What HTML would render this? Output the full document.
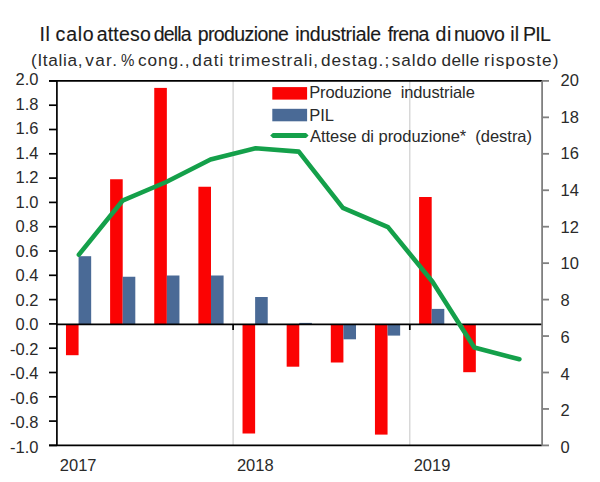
<!DOCTYPE html>
<html><head><meta charset="utf-8"><style>
html,body{margin:0;padding:0;background:#fff;}
svg{display:block;font-family:"Liberation Sans",sans-serif;}
text{fill:#2a2a2a;white-space:pre;}
</style></head><body>
<svg width="600" height="482" viewBox="0 0 600 482">
<text x="39.4" y="40.9" font-size="19.5" stroke="#1a1a1a" stroke-width="0.15" style="fill:#1a1a1a;letter-spacing:0.6px">Il</text><text x="55.6" y="40.9" font-size="19.5" stroke="#1a1a1a" stroke-width="0.15" style="fill:#1a1a1a;letter-spacing:0.783px">calo</text><text x="96.7" y="40.9" font-size="19.5" stroke="#1a1a1a" stroke-width="0.15" style="fill:#1a1a1a;letter-spacing:0.2px">atteso</text><text x="153.8" y="40.9" font-size="19.5" stroke="#1a1a1a" stroke-width="0.15" style="fill:#1a1a1a;letter-spacing:-0.875px">della</text><text x="197.7" y="40.9" font-size="19.5" stroke="#1a1a1a" stroke-width="0.15" style="fill:#1a1a1a;letter-spacing:-0.6px">produzione</text><text x="295.3" y="40.9" font-size="19.5" stroke="#1a1a1a" stroke-width="0.15" style="fill:#1a1a1a;letter-spacing:-0.3px">industriale</text><text x="387.7" y="40.9" font-size="19.5" stroke="#1a1a1a" stroke-width="0.15" style="fill:#1a1a1a;letter-spacing:-0.675px">frena</text><text x="435.6" y="40.9" font-size="19.5" stroke="#1a1a1a" stroke-width="0.15" style="fill:#1a1a1a;letter-spacing:0.6px">di</text><text x="454.0" y="40.9" font-size="19.5" stroke="#1a1a1a" stroke-width="0.15" style="fill:#1a1a1a;letter-spacing:-0.575px">nuovo</text><text x="510.3" y="40.9" font-size="19.5" stroke="#1a1a1a" stroke-width="0.15" style="fill:#1a1a1a;letter-spacing:0.0px">il</text><text x="523.0" y="40.9" font-size="19.5" stroke="#1a1a1a" stroke-width="0.15" style="fill:#1a1a1a;letter-spacing:-0.75px">PIL</text>
<text x="31.0" y="66.2" font-size="17.2" style="letter-spacing:0.671px">(Italia,</text><text x="85.3" y="66.2" font-size="17.2" style="letter-spacing:1.333px">var.</text><text x="121.0" y="66.2" font-size="17.2" textLength="13.4" lengthAdjust="spacingAndGlyphs">%</text><text x="138.0" y="66.2" font-size="17.2" style="letter-spacing:0.94px">cong.,</text><text x="192.3" y="66.2" font-size="17.2" style="letter-spacing:1.133px">dati</text><text x="228.7" y="66.2" font-size="17.2" style="letter-spacing:0.909px">trimestrali,</text><text x="321.0" y="66.2" font-size="17.2" style="letter-spacing:1.0px">destag.;</text><text x="391.7" y="66.2" font-size="17.2" style="letter-spacing:0.95px">saldo</text><text x="441.5" y="66.2" font-size="17.2" style="letter-spacing:0.375px">delle</text><text x="484.0" y="66.2" font-size="17.2" style="letter-spacing:1.062px">risposte)</text>
<g stroke="#cfcfcf" stroke-width="1.2"><line x1="233.1" y1="81" x2="233.1" y2="445"/><line x1="409.8" y1="81" x2="409.8" y2="445"/></g>
<rect x="65.97" y="324.40" width="12.60" height="30.80" fill="#fb0303"/><rect x="78.57" y="256.20" width="12.60" height="68.20" fill="#4a6a96"/><rect x="110.11" y="179.25" width="12.60" height="145.15" fill="#fb0303"/><rect x="122.71" y="276.75" width="12.60" height="47.65" fill="#4a6a96"/><rect x="154.25" y="87.90" width="12.60" height="236.50" fill="#fb0303"/><rect x="166.85" y="275.50" width="12.60" height="48.90" fill="#4a6a96"/><rect x="198.39" y="186.75" width="12.60" height="137.65" fill="#fb0303"/><rect x="210.99" y="275.50" width="12.60" height="48.90" fill="#4a6a96"/><rect x="242.53" y="324.40" width="12.60" height="109.10" fill="#fb0303"/><rect x="255.13" y="297.00" width="12.60" height="27.40" fill="#4a6a96"/><rect x="286.67" y="324.40" width="12.60" height="42.30" fill="#fb0303"/><rect x="299.27" y="322.90" width="12.60" height="1.50" fill="#4a6a96"/><rect x="330.81" y="324.40" width="12.60" height="38.10" fill="#fb0303"/><rect x="343.41" y="324.40" width="12.60" height="14.90" fill="#4a6a96"/><rect x="374.95" y="324.40" width="12.60" height="110.20" fill="#fb0303"/><rect x="387.55" y="324.40" width="12.60" height="11.20" fill="#4a6a96"/><rect x="419.09" y="197.00" width="12.60" height="127.40" fill="#fb0303"/><rect x="431.69" y="308.90" width="12.60" height="15.50" fill="#4a6a96"/><rect x="463.23" y="324.40" width="12.60" height="47.80" fill="#fb0303"/>
<g stroke="#000" stroke-width="1.7" fill="none">
<line x1="49" y1="80.9" x2="541.9" y2="80.9"/>
<line x1="49" y1="445.4" x2="541.9" y2="445.4"/>
<line x1="56.9" y1="80.9" x2="56.9" y2="445.4"/>
<line x1="56.9" y1="324.4" x2="541.9" y2="324.4"/>
<line x1="233.1" y1="324.4" x2="233.1" y2="330"/>
<line x1="409.8" y1="324.4" x2="409.8" y2="330"/>
<line x1="49" y1="80.90" x2="57" y2="80.90"/><line x1="49" y1="105.20" x2="57" y2="105.20"/><line x1="49" y1="129.50" x2="57" y2="129.50"/><line x1="49" y1="153.80" x2="57" y2="153.80"/><line x1="49" y1="178.10" x2="57" y2="178.10"/><line x1="49" y1="202.40" x2="57" y2="202.40"/><line x1="49" y1="226.70" x2="57" y2="226.70"/><line x1="49" y1="251.00" x2="57" y2="251.00"/><line x1="49" y1="275.30" x2="57" y2="275.30"/><line x1="49" y1="299.60" x2="57" y2="299.60"/><line x1="49" y1="323.90" x2="57" y2="323.90"/><line x1="49" y1="348.20" x2="57" y2="348.20"/><line x1="49" y1="372.50" x2="57" y2="372.50"/><line x1="49" y1="396.80" x2="57" y2="396.80"/><line x1="49" y1="421.10" x2="57" y2="421.10"/><line x1="49" y1="445.40" x2="57" y2="445.40"/>
</g>
<g stroke="#808080" stroke-width="1.8" fill="none">
<line x1="542.1" y1="80.9" x2="542.1" y2="445.4"/>
<line x1="541.9" y1="80.90" x2="549" y2="80.90"/><line x1="541.9" y1="117.35" x2="549" y2="117.35"/><line x1="541.9" y1="153.80" x2="549" y2="153.80"/><line x1="541.9" y1="190.25" x2="549" y2="190.25"/><line x1="541.9" y1="226.70" x2="549" y2="226.70"/><line x1="541.9" y1="263.15" x2="549" y2="263.15"/><line x1="541.9" y1="299.60" x2="549" y2="299.60"/><line x1="541.9" y1="336.05" x2="549" y2="336.05"/><line x1="541.9" y1="372.50" x2="549" y2="372.50"/><line x1="541.9" y1="408.95" x2="549" y2="408.95"/><line x1="541.9" y1="445.40" x2="549" y2="445.40"/>
</g>
<polyline points="78.9,254.6 122.5,200.7 166.2,182 210.5,159.5 255.7,148.2 298.8,151.6 342.9,207.8 388,227.1 432.5,281.7 474.3,347.6 519.4,359.2" fill="none" stroke="#14a04a" stroke-width="4.6" stroke-linejoin="round" stroke-linecap="round"/>
<rect x="272.3" y="87.1" width="34.8" height="12.5" fill="#fb0303"/>
<rect x="272.3" y="108.8" width="34.8" height="12.5" fill="#4a6a96"/>
<polygon points="270.2,135.5 272.8,133.1 306,133.1 308.6,135.5 306,137.9 272.8,137.9" fill="#14a04a"/>
<g font-size="16.5">
<text x="309.2" y="98.3" style="letter-spacing:-0.1px">Produzione  industriale</text>
<text x="309.2" y="120.5">PIL</text>
<text x="310" y="141.5" textLength="222" lengthAdjust="spacing">Attese di produzione*  (destra)</text>
<text x="38.5" y="85.45" text-anchor="end">2.0</text><text x="38.5" y="109.92" text-anchor="end">1.8</text><text x="38.5" y="134.39" text-anchor="end">1.6</text><text x="38.5" y="158.86" text-anchor="end">1.4</text><text x="38.5" y="183.33" text-anchor="end">1.2</text><text x="38.5" y="207.80" text-anchor="end">1.0</text><text x="38.5" y="232.27" text-anchor="end">0.8</text><text x="38.5" y="256.74" text-anchor="end">0.6</text><text x="38.5" y="281.21" text-anchor="end">0.4</text><text x="38.5" y="305.68" text-anchor="end">0.2</text><text x="38.5" y="330.15" text-anchor="end">0.0</text><text x="38.5" y="354.62" text-anchor="end">-0.2</text><text x="38.5" y="379.09" text-anchor="end">-0.4</text><text x="38.5" y="403.56" text-anchor="end">-0.6</text><text x="38.5" y="428.03" text-anchor="end">-0.8</text><text x="38.5" y="452.50" text-anchor="end">-1.0</text>
<text x="560.5" y="85.95">20</text><text x="560.5" y="122.65">18</text><text x="560.5" y="159.35">16</text><text x="560.5" y="196.05">14</text><text x="560.5" y="232.75">12</text><text x="560.5" y="269.45">10</text><text x="560.5" y="306.15">8</text><text x="560.5" y="342.85">6</text><text x="560.5" y="379.55">4</text><text x="560.5" y="416.25">2</text><text x="560.5" y="452.95">0</text>
<text x="78.2" y="471.2" text-anchor="middle">2017</text>
<text x="255.3" y="471.2" text-anchor="middle">2018</text>
<text x="432" y="471.2" text-anchor="middle">2019</text>
</g>
</svg>
</body></html>
